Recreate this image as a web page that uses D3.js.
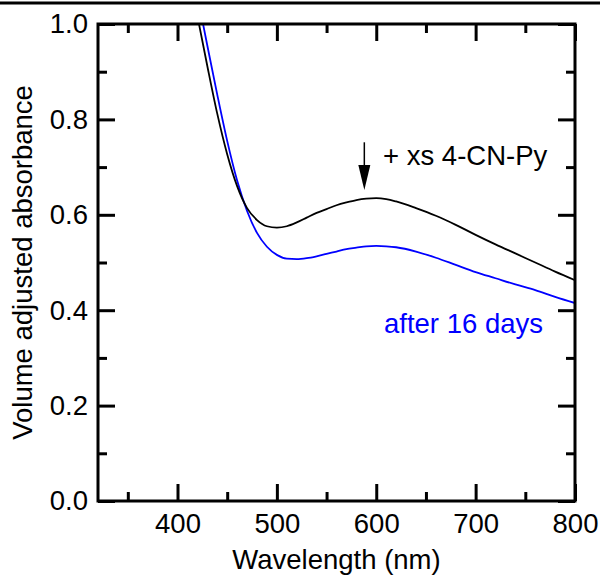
<!DOCTYPE html>
<html>
<head>
<meta charset="utf-8">
<script src="https://cdn.jsdelivr.net/npm/d3@7"></script>
<style>
  body { margin: 0; background: #fff; }
  text { font-family: "Liberation Sans", Arial, sans-serif; }
</style>
</head>
<body>
<div id="chart"></div>
<script>
// wavelength grid (nm) and absorbance
const wavelengths = [410, 420, 430, 440, 450, 460, 470, 480, 490, 500, 510, 520, 530, 540, 550, 560, 570, 580, 590, 600, 610, 620, 640, 660, 680, 700, 720, 740, 760, 780, 800];
const withCNPy = [1.125, 1.017, 0.912, 0.812, 0.727, 0.660, 0.614, 0.589, 0.576, 0.573, 0.576, 0.584, 0.594, 0.604, 0.612, 0.620, 0.626, 0.631, 0.634, 0.635, 0.633, 0.628, 0.614, 0.598, 0.579, 0.558, 0.538, 0.519, 0.500, 0.481, 0.463];
const after16Days = [1.165, 1.06, 0.955, 0.852, 0.755, 0.672, 0.608, 0.562, 0.533, 0.516, 0.508, 0.507, 0.509, 0.513, 0.518, 0.523, 0.528, 0.531, 0.534, 0.535, 0.534, 0.532, 0.523, 0.510, 0.495, 0.480, 0.467, 0.454, 0.442, 0.428, 0.415];

const xMajor = [400, 500, 600, 700, 800];
const xMinor = [350, 450, 550, 650, 750];
const yMajor = [0.0, 0.2, 0.4, 0.6, 0.8, 1.0];
const yMinor = [0.1, 0.3, 0.5, 0.7, 0.9];

const arrowAt = { wl: 588, top: 0.752, tip: 0.652 };

function initSpectrum() {
    const W = 600, H = 577;
    const margin = { top: 24, right: 25, bottom: 76, left: 98 };
    const width = W - margin.left - margin.right;
    const height = H - margin.top - margin.bottom;
    const fontSize = "27.5px";

    const root = d3.select("#chart")
        .append("svg")
        .attr("width", W)
        .attr("height", H);

    // rule across the top of the figure
    root.append("line")
        .attr("x1", 0).attr("x2", W)
        .attr("y1", 3).attr("y2", 3)
        .attr("stroke", "#000")
        .attr("stroke-width", 3);

    const svg = root.append("g")
        .attr("transform", `translate(${margin.left}, ${margin.top})`);

    const xScale = d3.scaleLinear().domain([320, 800]).range([0, width]);
    const yScale = d3.scaleLinear().domain([0, 1]).range([height, 0]);

    svg.append("clipPath").attr("id", "plot-clip")
        .append("rect")
        .attr("width", width)
        .attr("height", height);

    const line = d3.line()
        .x(d => xScale(d[0]))
        .y(d => yScale(d[1]))
        .curve(d3.curveMonotoneX);

    const series = [
        { values: after16Days, color: "#0000ff" },
        { values: withCNPy, color: "#000000" }
    ];

    svg.selectAll(".spectrum")
        .data(series)
        .enter()
        .append("path")
        .attr("class", "spectrum")
        .attr("clip-path", "url(#plot-clip)")
        .attr("fill", "none")
        .attr("stroke", d => d.color)
        .attr("stroke-width", 1.8)
        .attr("d", d => line(wavelengths.map((w, i) => [w, d.values[i]])));

    // axes: ticks point inward on all four sides
    function styleAxis(g) {
        g.select(".domain").remove();
        g.selectAll(".tick line").attr("stroke", "#000").attr("stroke-width", 3);
        g.selectAll("text")
            .attr("fill", "#000")
            .style("font-size", fontSize)
            .style("font-family", "'Liberation Sans', Arial, sans-serif");
    }

    svg.append("g")
        .attr("transform", `translate(0, ${height})`)
        .call(d3.axisBottom(xScale).tickValues(xMajor).tickSize(-17).tickPadding(12))
        .call(styleAxis);
    svg.append("g")
        .attr("transform", `translate(0, ${height})`)
        .call(d3.axisBottom(xScale).tickValues(xMinor).tickSize(-9).tickFormat(""))
        .call(styleAxis);
    svg.append("g")
        .call(d3.axisTop(xScale).tickValues(xMajor).tickSize(-17).tickFormat(""))
        .call(styleAxis);
    svg.append("g")
        .call(d3.axisTop(xScale).tickValues(xMinor).tickSize(-9).tickFormat(""))
        .call(styleAxis);

    svg.append("g")
        .call(d3.axisLeft(yScale).tickValues(yMajor).tickSize(-17).tickPadding(10).tickFormat(d3.format(".1f")))
        .call(styleAxis);
    svg.append("g")
        .call(d3.axisLeft(yScale).tickValues(yMinor).tickSize(-9).tickFormat(""))
        .call(styleAxis);
    svg.append("g")
        .attr("transform", `translate(${width}, 0)`)
        .call(d3.axisRight(yScale).tickValues(yMajor).tickSize(-17).tickFormat(""))
        .call(styleAxis);
    svg.append("g")
        .attr("transform", `translate(${width}, 0)`)
        .call(d3.axisRight(yScale).tickValues(yMinor).tickSize(-9).tickFormat(""))
        .call(styleAxis);

    svg.append("rect")
        .attr("width", width)
        .attr("height", height)
        .attr("fill", "none")
        .attr("stroke", "#000")
        .attr("stroke-width", 3);

    // arrow and labels
    const ax = xScale(arrowAt.wl);
    svg.append("line")
        .attr("x1", ax).attr("x2", ax)
        .attr("y1", yScale(arrowAt.top))
        .attr("y2", yScale(arrowAt.tip) - 20)
        .attr("stroke", "#000")
        .attr("stroke-width", 1.5);
    svg.append("path")
        .attr("d", `M${ax - 6},${yScale(arrowAt.tip) - 25} L${ax + 6},${yScale(arrowAt.tip) - 25} L${ax},${yScale(arrowAt.tip)} Z`)
        .attr("fill", "#000");

    svg.append("text")
        .attr("x", 383 - margin.left)
        .attr("y", 165 - margin.top)
        .attr("fill", "#000")
        .style("font-size", fontSize)
        .text("+ xs 4-CN-Py");

    svg.append("text")
        .attr("x", 384 - margin.left)
        .attr("y", 333 - margin.top)
        .attr("fill", "#0000ff")
        .style("font-size", fontSize)
        .text("after 16 days");

    svg.append("text")
        .attr("x", width / 2)
        .attr("y", 569 - margin.top)
        .attr("text-anchor", "middle")
        .attr("fill", "#000")
        .style("font-size", fontSize)
        .text("Wavelength (nm)");

    svg.append("text")
        .attr("transform", "rotate(-90)")
        .attr("x", -(height / 2))
        .attr("y", 32 - margin.left)
        .attr("text-anchor", "middle")
        .attr("fill", "#000")
        .style("font-size", fontSize)
        .text("Volume adjusted absorbance");
}

initSpectrum();
</script>
</body>
</html>
